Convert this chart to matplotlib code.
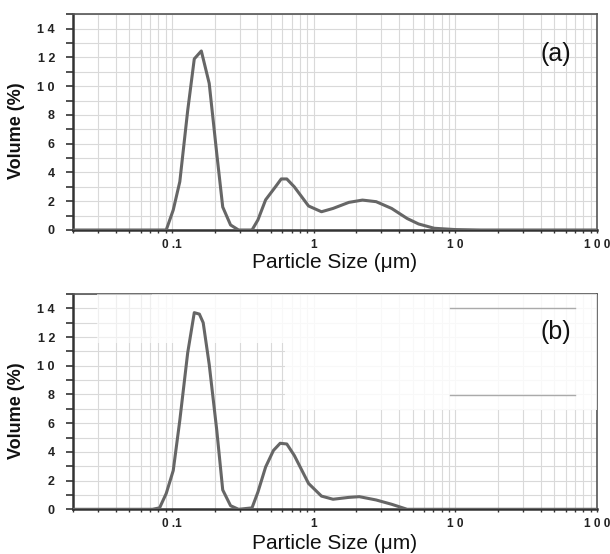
import matplotlib
matplotlib.use("Agg")
import matplotlib.pyplot as plt
from matplotlib.ticker import LogLocator, FixedLocator, NullFormatter, MultipleLocator
from matplotlib.patches import Rectangle
from matplotlib.lines import Line2D

plt.rcParams['font.family'] = ['Liberation Sans', 'DejaVu Sans']

# ---- data (a) ----
size_a = [0.02, 0.091, 0.102, 0.1135, 0.129, 0.1436, 0.161, 0.183, 0.207, 0.228, 0.259,
          0.295, 0.367, 0.404, 0.458, 0.537, 0.59, 0.646, 0.73, 0.92, 1.135, 1.37,
          1.77, 2.21, 2.76, 3.55, 4.57, 5.5, 7.1, 10.0, 15.0, 100.0]
vol_a = [0, 0, 1.39, 3.36, 8.3, 11.9, 12.45, 10.2, 5.3, 1.6, 0.35,
         0, 0, 0.7, 2.1, 3.0, 3.55, 3.55, 3.0, 1.67, 1.27, 1.5,
         1.92, 2.08, 1.97, 1.5, 0.8, 0.42, 0.12, 0.03, 0, 0]

# ---- data (b) ----
size_b = [0.02, 0.0727, 0.0817, 0.091, 0.102, 0.1135, 0.129, 0.1436, 0.156, 0.166, 0.183,
          0.207, 0.228, 0.259, 0.295, 0.367, 0.404, 0.458, 0.52, 0.58, 0.646, 0.73,
          0.92, 1.135, 1.37, 1.77, 2.1, 2.76, 3.55, 4.57, 100.0]
vol_b = [0, 0, 0.1, 1.1, 2.7, 6.2, 10.9, 13.7, 13.6, 13.0, 10.1,
         5.5, 1.35, 0.25, 0, 0.1, 1.2, 2.95, 4.1, 4.6, 4.55, 3.75,
         1.8, 0.92, 0.7, 0.83, 0.88, 0.65, 0.35, 0, 0]

xticks = [0.1, 1, 10, 100]
xticklabels = ["0 .1", "1", "1 0", "1 0 0"]
yticks = [0, 2, 4, 6, 8, 10, 12, 14]
yticklabels = ["0", "2", "4", "6", "8", "1 0", "1 2", "1 4"]
panel_labels = ["(a)", "(b)"]
xlabel = "Particle Size (\u03bcm)"
ylabel = "Volume (%)"

fig = plt.figure(figsize=(6.10, 5.54), dpi=100)
W, H = 610, 554
def axrect(l, t, r, b):
    return [l / W, 1 - b / H, (r - l) / W, (b - t) / H]

ax_a = fig.add_axes(axrect(73, 14.3, 597, 230))
ax_b = fig.add_axes(axrect(73, 294, 597, 509.3))

grid_c = '#d9d9d9'
line_c = '#666666'

panels = [(ax_a, size_a, vol_a, panel_labels[0], -0.107, 0.459, 0.816),
          (ax_b, size_b, vol_b, panel_labels[1], -0.115, 0.457, 0.823)]

for ax, xs, ys, lab, xl_y, yl_y, lab_y in panels:
    ax.set_xscale('log')
    ax.set_xlim(0.02, 100)
    ax.set_ylim(0, 15)
    ax.plot(xs, ys, color=line_c, lw=2.2, zorder=5)
    ax.xaxis.set_major_locator(FixedLocator(xticks))
    ax.set_xticklabels(xticklabels, fontsize=8.5, fontweight='bold', color='#222222')
    ax.xaxis.set_minor_locator(LogLocator(base=10, subs=range(2, 10)))
    ax.xaxis.set_minor_formatter(NullFormatter())
    ax.set_yticks(yticks)
    ax.set_yticklabels(yticklabels, fontsize=9, fontweight='bold', color='#222222')
    ax.yaxis.set_minor_locator(MultipleLocator(1))
    ax.grid(True, which='both', color=grid_c, lw=0.8, zorder=0)
    ax.set_axisbelow(True)
    ax.tick_params(axis='y', which='both', direction='out', length=5, width=1.2, color='#333333', pad=8)
    ax.tick_params(axis='x', which='both', direction='out', length=2.5, width=1.0, color='#333333', pad=4)
    for s in ['left', 'bottom']:
        ax.spines[s].set_color('#333333')
        ax.spines[s].set_linewidth(1.8)
    for s in ['top', 'right']:
        ax.spines[s].set_color('#555555')
        ax.spines[s].set_linewidth(1.2)
    ax.set_xlabel(xlabel, fontsize=15, color='#111111')
    ax.xaxis.set_label_coords(0.5, xl_y)
    ax.set_ylabel(ylabel, fontsize=13, fontweight='bold', color='#111111')
    ax.yaxis.set_label_coords(-0.091, yl_y)
    ax.text(0.922, lab_y, lab, transform=ax.transAxes, fontsize=18, ha='center', va='center',
            color='#111111', zorder=10)

# faded overlay artifacts in panel (b)
ax_b.add_patch(Rectangle((0.151, 0.772), 0.849, 0.228, transform=ax_b.transAxes,
                         facecolor='white', alpha=0.82, edgecolor='none', zorder=3))
ax_b.add_patch(Rectangle((0.405, 0.461), 0.595, 0.311, transform=ax_b.transAxes,
                         facecolor='white', alpha=0.82, edgecolor='none', zorder=3))
ax_b.add_patch(Rectangle((0.045, 0.772), 0.106, 0.228, transform=ax_b.transAxes,
                         facecolor='white', alpha=0.6, edgecolor='none', zorder=3))
ax_b.add_line(Line2D([0.72, 0.958], [0.936, 0.936], transform=ax_b.transAxes, color='#aaaaaa', lw=1.0, zorder=4))
ax_b.add_line(Line2D([0.72, 0.958], [0.531, 0.531], transform=ax_b.transAxes, color='#aaaaaa', lw=1.0, zorder=4))

fig.savefig("out.png", dpi=100)
